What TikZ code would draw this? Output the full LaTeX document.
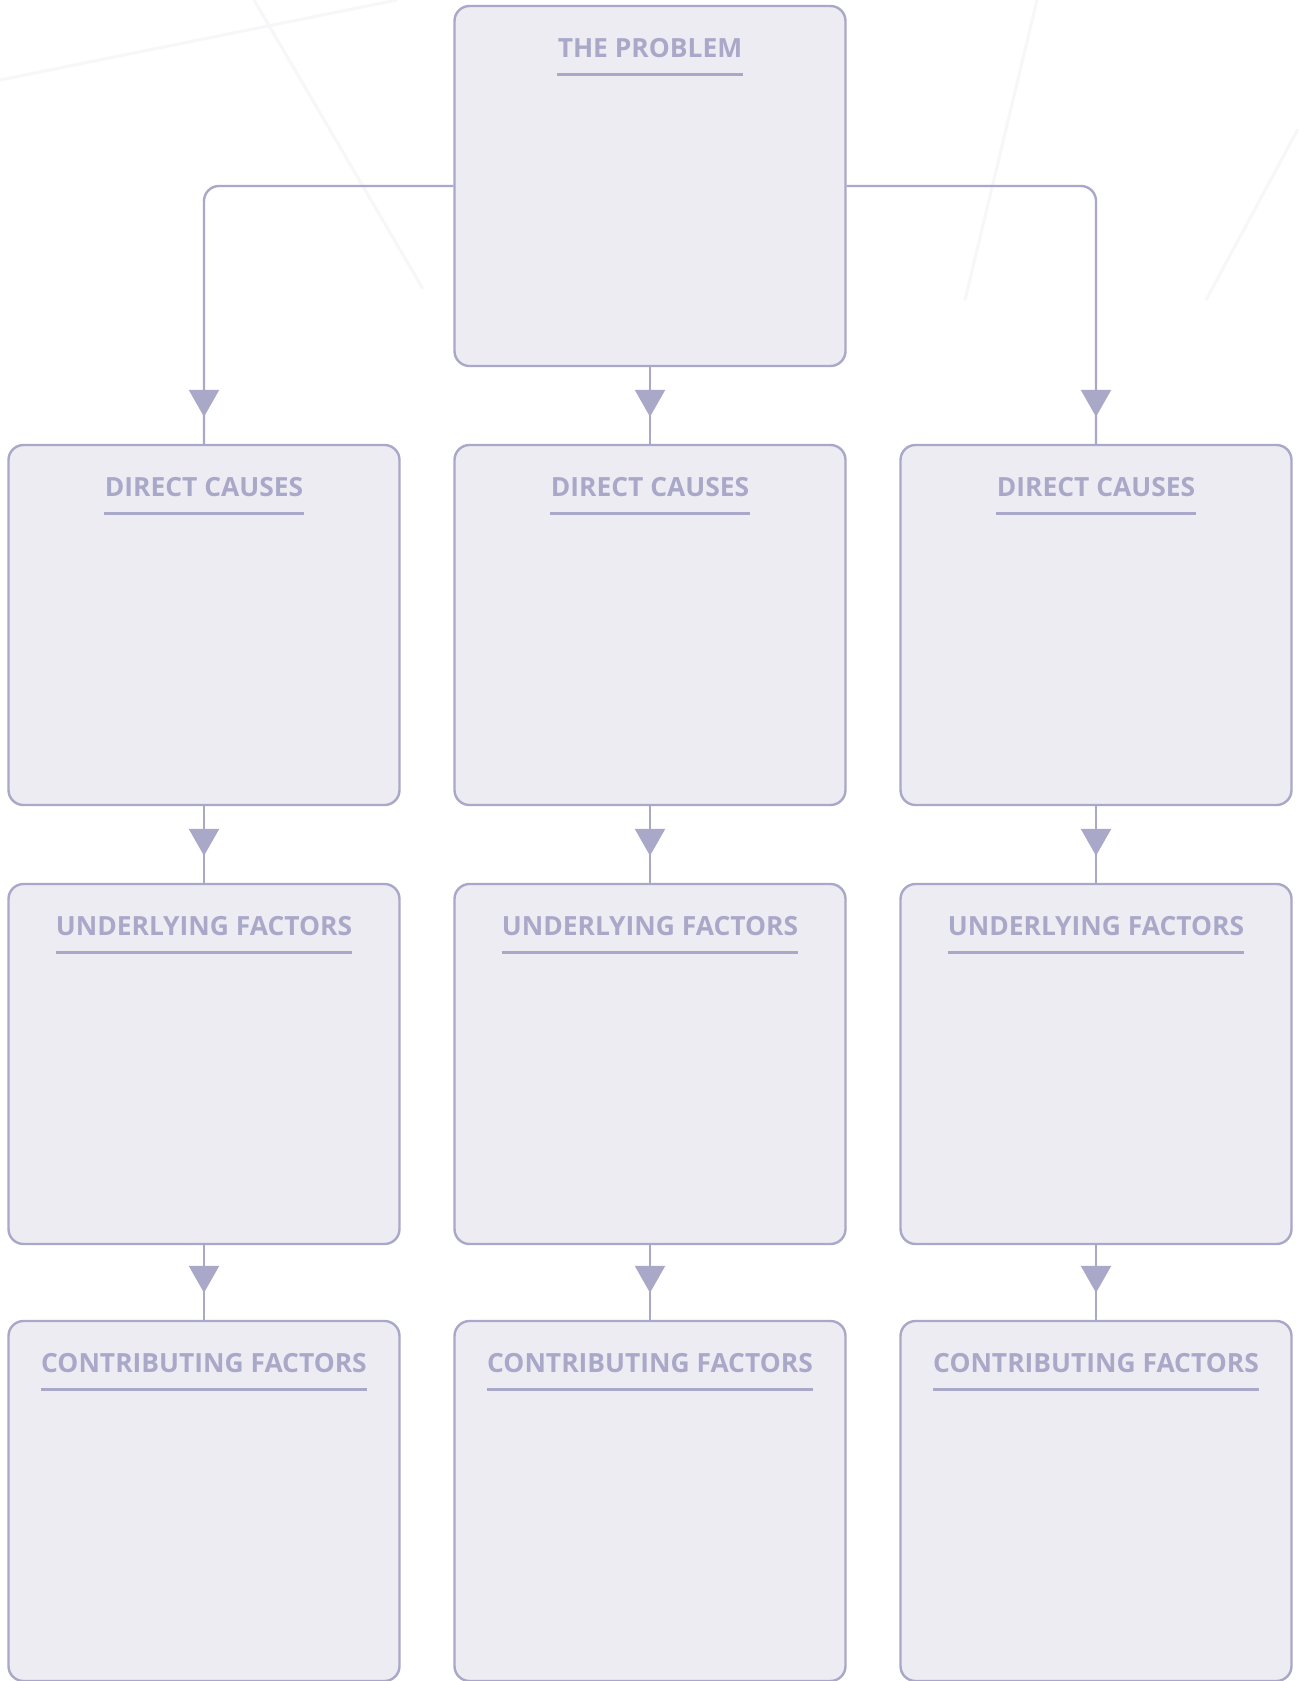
\documentclass[tikz,border=0pt]{standalone}
\usepackage{fontspec}
\setmainfont{Open Sans}
\usetikzlibrary{arrows.meta,decorations.markings}
\definecolor{boxline}{RGB}{169,168,200}
\definecolor{boxfill}{RGB}{237,236,243}
\definecolor{bgline}{RGB}{247,247,249}

\begin{document}
\begin{tikzpicture}[x=0.5pt, y=-0.5pt,
  box/.style={draw=boxline, fill=boxfill, line width=1.2pt, rounded corners=7.5pt,
    minimum width=195.5pt, minimum height=180pt, inner sep=0pt},
  title/.style={text=boxline, font=\bfseries\fontsize{13.2}{16}\selectfont,
    inner sep=0pt, anchor=base},
  uline/.style={draw=boxline, line width=1.5pt},
  link/.style={draw=boxline, line width=1.2pt, rounded corners=7.5pt,
    postaction={decorate}, decoration={markings,
      mark=at position -13.5pt with {\arrow{Triangle[width=15pt,length=13.5pt]}}}}]
\useasboundingbox (0,0) rectangle (1298,1681);
\fill[white] (0,0) rectangle (1298,1681);
\draw[bgline, line width=1.5pt] (0,80) -- (397,0);
\draw[bgline, line width=1.5pt] (254,0) -- (423,289);
\draw[bgline, line width=1.5pt] (1037,0) -- (965,300);
\draw[bgline, line width=1.5pt] (1298,129) -- (1206,300);

\node[box] (prob) at (650,186) {};
\node[box] (dc1) at (204,625) {};
\node[box] (dc2) at (650,625) {};
\node[box] (dc3) at (1096,625) {};
\node[box] (uf1) at (204,1064) {};
\node[box] (uf2) at (650,1064) {};
\node[box] (uf3) at (1096,1064) {};
\node[box] (cf1) at (204,1501) {};
\node[box] (cf2) at (650,1501) {};
\node[box] (cf3) at (1096,1501) {};

\node[title] (prob-t) at ([yshift=-26.5pt]prob.north) {THE PROBLEM};
\node[title] (dc1-t) at ([yshift=-26.5pt]dc1.north) {DIRECT CAUSES};
\node[title] (dc2-t) at ([yshift=-26.5pt]dc2.north) {DIRECT CAUSES};
\node[title] (dc3-t) at ([yshift=-26.5pt]dc3.north) {DIRECT CAUSES};
\node[title] (uf1-t) at ([yshift=-26.5pt]uf1.north) {UNDERLYING FACTORS};
\node[title] (uf2-t) at ([yshift=-26.5pt]uf2.north) {UNDERLYING FACTORS};
\node[title] (uf3-t) at ([yshift=-26.5pt]uf3.north) {UNDERLYING FACTORS};
\node[title] (cf1-t) at ([yshift=-26.5pt]cf1.north) {CONTRIBUTING FACTORS};
\node[title] (cf2-t) at ([yshift=-26.5pt]cf2.north) {CONTRIBUTING FACTORS};
\node[title] (cf3-t) at ([yshift=-26.5pt]cf3.north) {CONTRIBUTING FACTORS};

\draw[uline] ([yshift=-8.25pt]prob-t.base west) -- ([yshift=-8.25pt]prob-t.base east);
\draw[uline] ([yshift=-8.25pt]dc1-t.base west) -- ([yshift=-8.25pt]dc1-t.base east);
\draw[uline] ([yshift=-8.25pt]dc2-t.base west) -- ([yshift=-8.25pt]dc2-t.base east);
\draw[uline] ([yshift=-8.25pt]dc3-t.base west) -- ([yshift=-8.25pt]dc3-t.base east);
\draw[uline] ([yshift=-8.25pt]uf1-t.base west) -- ([yshift=-8.25pt]uf1-t.base east);
\draw[uline] ([yshift=-8.25pt]uf2-t.base west) -- ([yshift=-8.25pt]uf2-t.base east);
\draw[uline] ([yshift=-8.25pt]uf3-t.base west) -- ([yshift=-8.25pt]uf3-t.base east);
\draw[uline] ([yshift=-8.25pt]cf1-t.base west) -- ([yshift=-8.25pt]cf1-t.base east);
\draw[uline] ([yshift=-8.25pt]cf2-t.base west) -- ([yshift=-8.25pt]cf2-t.base east);
\draw[uline] ([yshift=-8.25pt]cf3-t.base west) -- ([yshift=-8.25pt]cf3-t.base east);

\draw[link] (prob.west) -| (dc1.north);
\draw[link] (prob.south) -- (dc2.north);
\draw[link] (prob.east) -| (dc3.north);
\draw[link] (dc1.south) -- (uf1.north);
\draw[link] (dc2.south) -- (uf2.north);
\draw[link] (dc3.south) -- (uf3.north);
\draw[link] (uf1.south) -- (cf1.north);
\draw[link] (uf2.south) -- (cf2.north);
\draw[link] (uf3.south) -- (cf3.north);
\end{tikzpicture}
\end{document}
